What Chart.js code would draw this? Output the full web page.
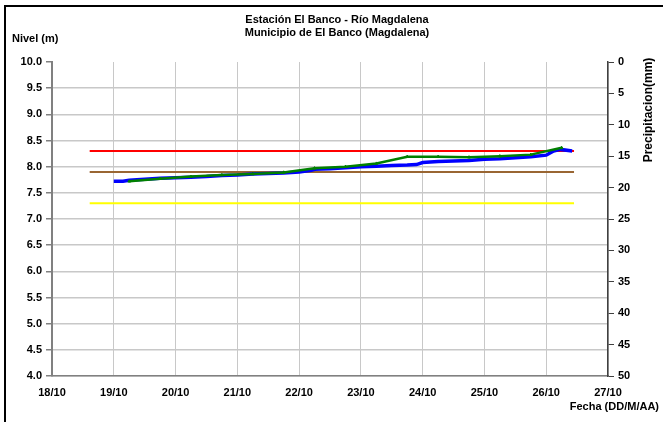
<!DOCTYPE html>
<html>
<head>
<meta charset="utf-8">
<script src="https://cdn.jsdelivr.net/npm/chart.js@4"></script>
<style>
  html, body { margin: 0; padding: 0; background: #fff; }
  #wrap { position: relative; width: 663px; height: 422px; }
</style>
</head>
<body>
<div id="wrap"><canvas id="grafico" width="663" height="422"></canvas></div>
<script>
// --- DATOS ---
// fechas en dias de octubre (decimal), niveles en metros
const fechasHorario = [19.0, 19.15, 19.25, 19.5, 19.75, 20.0, 20.25, 20.5, 20.75, 21.0, 21.25, 21.5, 21.75, 22.0,
    22.2, 22.25, 22.5, 22.75, 23.0, 23.25, 23.5, 23.75, 23.9, 24.0, 24.25, 24.5, 24.75, 25.0, 25.25, 25.5, 25.75,
    26.0, 26.12, 26.23, 26.42];
const nivelesHorario = [7.72, 7.72, 7.74, 7.76, 7.78, 7.79, 7.80, 7.81, 7.83, 7.84, 7.86, 7.87, 7.88, 7.90,
    7.93, 7.95, 7.96, 7.98, 8.00, 8.01, 8.02, 8.03, 8.04, 8.08, 8.10, 8.11, 8.12, 8.14, 8.15, 8.17, 8.19,
    8.22, 8.30, 8.33, 8.30];

const fechasLecturas = [19.25, 19.75, 20.25, 20.75, 21.25, 21.75, 22.25, 22.75, 23.25, 23.75, 24.25, 24.75,
    25.25, 25.75, 26.25];
const nivelesLecturas = [7.72, 7.77, 7.81, 7.84, 7.86, 7.89, 7.97, 8.00, 8.06, 8.19, 8.19, 8.18, 8.20, 8.23, 8.36];

// umbrales (m) y rango de fechas en que se dibujan
const umbrales = [8.3, 7.9, 7.3];
const coloresUmbral = ['#FF0000', '#996633', '#FFFF00'];
const umbralDesde = 18.61;
const umbralHasta = 26.45;

// ejes
const fechaMin = 18, fechaMax = 27;
const nivelMin = 4, nivelMax = 10;
const lluviaMin = 0, lluviaMax = 50;

const FUENTE = 'bold 11px "Liberation Sans", Arial, sans-serif';

// --- TEXTOS Y MARCO ---
const textosPlugin = {
    id: 'textos',
    afterDraw(chart) {
        const c = chart.ctx;
        c.save();
        c.fillStyle = '#000';
        c.font = FUENTE;
        c.textBaseline = 'middle';
        c.textAlign = 'center';
        c.fillText('Estación El Banco - Río Magdalena', 337, 20);
        c.fillText('Municipio de El Banco (Magdalena)', 337, 33);
        c.textAlign = 'left';
        c.fillText('Nivel (m)', 12, 39);
        c.textAlign = 'right';
        c.fillText('Fecha (DD/M/AA)', 659, 407);
        c.font = 'bold 12px "Liberation Sans", Arial, sans-serif';
        c.translate(649, 110);
        c.rotate(-Math.PI / 2);
        c.textAlign = 'center';
        c.fillText('Precipitacion(mm)', 0, 0);
        c.restore();

        // marco
        c.save();
        c.fillStyle = '#000';
        c.fillRect(4, 5, 2, 417);
        c.fillRect(4, 5, 659, 2);
        c.restore();
    }
};

const umbralDatasets = umbrales.map((u, i) => ({
    label: 'Umbral ' + u.toFixed(1),
    data: [{ x: umbralDesde, y: u }, { x: umbralHasta, y: u }],
    borderColor: coloresUmbral[i],
    borderWidth: 2,
    pointRadius: 0,
    yAxisID: 'y',
    order: 3
}));

new Chart(document.getElementById('grafico'), {
    type: 'line',
    data: {
        datasets: [
            {
                label: 'Nivel horario',
                data: fechasHorario.map((f, i) => ({ x: f, y: nivelesHorario[i] })),
                borderColor: '#0000FF',
                borderWidth: 3.5,
                pointRadius: 0,
                tension: 0,
                yAxisID: 'y',
                order: 2
            },
            {
                label: 'Lecturas',
                data: fechasLecturas.map((f, i) => ({ x: f, y: nivelesLecturas[i] })),
                borderColor: '#008000',
                backgroundColor: '#008000',
                borderWidth: 2.5,
                pointStyle: 'triangle',
                pointRadius: 1.6,
                pointBorderWidth: 1,
                tension: 0,
                yAxisID: 'y',
                order: 1
            },
            ...umbralDatasets
        ]
    },
    options: {
        responsive: false,
        animation: false,
        layout: { padding: { top: 62, left: 0, right: 0, bottom: 0 } },
        plugins: {
            legend: { display: false },
            tooltip: { enabled: false },
            title: { display: false }
        },
        scales: {
            x: {
                type: 'linear',
                min: fechaMin,
                max: fechaMax,
                afterFit: (s) => { s.height = 46; },
                afterBuildTicks: (s) => {
                    s.ticks = [];
                    for (let d = fechaMin; d <= fechaMax; d++) s.ticks.push({ value: d });
                },
                ticks: {
                    callback: (v) => v + '/10',
                    color: '#000',
                    font: { family: '"Liberation Sans", Arial', size: 11, weight: 'bold' },
                    padding: 10,
                    maxRotation: 0,
                    autoSkip: false
                },
                grid: { color: '#C8C8C8', lineWidth: 1, drawTicks: false },
                border: { color: '#808080', width: 1.5 }
            },
            y: {
                position: 'left',
                min: nivelMin,
                max: nivelMax,
                afterFit: (s) => { s.width = 52; },
                ticks: {
                    stepSize: 0.5,
                    callback: (v) => Number(v).toFixed(1),
                    color: '#000',
                    font: { family: '"Liberation Sans", Arial', size: 11, weight: 'bold' },
                    padding: 4
                },
                grid: {
                    color: (ctx) => (ctx.tick && ctx.tick.value === nivelMax) ? 'rgba(0,0,0,0)' : '#C8C8C8',
                    tickColor: '#808080',
                    tickLength: 6,
                    lineWidth: 1.5
                },
                border: { color: '#808080', width: 2 }
            },
            y2: {
                position: 'right',
                min: lluviaMin,
                max: lluviaMax,
                reverse: true,
                afterFit: (s) => { s.width = 55; },
                ticks: {
                    stepSize: 5,
                    color: '#000',
                    font: { family: '"Liberation Sans", Arial', size: 11, weight: 'bold' },
                    padding: 4
                },
                grid: { drawOnChartArea: false, tickColor: '#404040', tickLength: 6 },
                border: { color: '#404040', width: 1.5 }
            }
        }
    },
    plugins: [textosPlugin]
});
</script>
</body>
</html>
